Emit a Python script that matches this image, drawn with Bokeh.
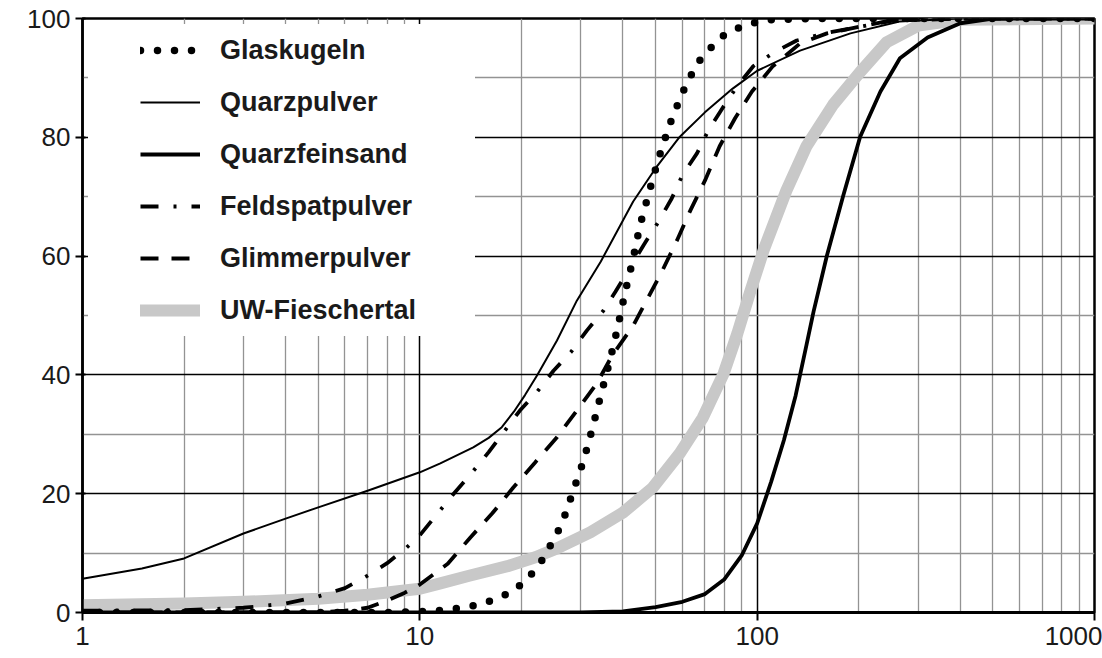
from bokeh.plotting import figure
from bokeh.models import FixedTicker, NumeralTickFormatter, Legend, LegendItem, Range1d
from bokeh.embed import file_html
from bokeh.resources import INLINE

# ---- axis ticks ----
x_ticks = [1, 10, 100, 1000]
x_minor = [2, 3, 4, 5, 6, 7, 8, 9, 20, 30, 40, 50, 60, 70, 80, 90,
           200, 300, 400, 500, 600, 700, 800, 900]
y_ticks = [0, 20, 40, 60, 80, 100]
y_minor = [10, 30, 50, 70, 90]

# ---- series (grain size d, passing %) ----
glas_d = [1, 8, 11, 13.4, 14.9, 16.5, 18.3, 20.2, 22, 23.4, 24.8, 26.2, 27.3, 28.3,
          30.6, 32.5, 34.5, 36.6, 38.6, 40.6, 42.9, 44.9, 47.9, 51, 54.9, 59.7, 63, 66.3,
          71.6, 77.8, 86, 96.5, 110, 150, 1000]
glas_p = [0, 0, 0.2, 0.8, 1.3, 2.1, 3.2, 4.9, 7.2, 9.4, 12.1, 14.6, 17.3, 20,
          25.6, 31.1, 36.9, 42.4, 48, 53.9, 59.6, 65.1, 70.9, 76.4, 82, 87.2, 89.9, 92.4,
          94.6, 96.8, 98.2, 99.2, 99.8, 100, 100]

qp_d = [1, 1.5, 2, 3, 4, 5, 7, 10, 11.5, 14.4, 16, 17.5, 19, 20.5, 22.3, 25.5, 29.2,
        34.4, 42.9, 50, 59, 70, 84.6, 100, 134, 189, 264, 400, 1000]
qp_p = [5.7, 7.4, 9.1, 13.3, 15.8, 17.7, 20.5, 23.6, 25.1, 27.8, 29.4, 31.2, 33.8, 36.6,
        40, 45.8, 52.5, 59.1, 69.2, 74.8, 80.1, 84.2, 88.2, 91.2, 94.6, 97.5, 99.5, 100,
        100]

qf_d = [1, 30, 40, 50, 60, 70, 80, 90, 100, 110, 120, 130, 140, 147, 161, 180, 202,
        232, 265, 320, 400, 500, 1000]
qf_p = [0, 0, 0.2, 0.9, 1.8, 3.1, 5.6, 9.6, 15, 22, 29, 36.5, 45, 50.7, 60.1, 70.2,
        80.1, 87.7, 93.3, 96.8, 99.2, 100, 100]

fs_d = [1, 2, 3, 4, 5, 6, 7, 8, 9, 10, 12.6, 14.3, 16, 17.8, 19.8, 22.3, 24.9, 28.1,
        31.3, 35, 38, 46, 51, 55.8, 60, 66.3, 71.6, 79.5, 87.5, 97.5, 113, 131, 161,
        250, 400, 1000]
fs_p = [0.3, 0.4, 0.8, 1.5, 2.7, 4.1, 6.2, 8.3, 10.6, 13, 20, 23.6, 27, 30.5, 34, 37.2,
        40.7, 43.9, 47.5, 50.8, 54, 61.8, 65.8, 69.7, 73.6, 77.3, 81.1, 85.2, 88.7, 92,
        94.4, 96.3, 97.6, 99.6, 100, 100]

gl_d = [1, 5, 6, 7, 8, 9, 10, 12.1, 14.1, 16.4, 18.9, 22, 25.5, 29.2, 33.5, 37.2, 42.9,
        47.3, 52.4, 57.8, 63.4, 70, 77.4, 86, 96.5, 111, 134, 161, 250, 400, 1000]
gl_p = [0, 0, 0.3, 0.8, 2, 3.3, 4.7, 8.2, 12.6, 16.7, 21, 25.3, 29.5, 34, 38.6, 43.3,
        48.3, 52.8, 57.6, 62.6, 67.7, 72.7, 78.5, 83.2, 87.7, 91.9, 95.8, 97.5, 99.7,
        100, 100]

uw_d = [1, 2, 3, 5, 7, 10, 11.5, 14, 18.2, 22, 25.5, 32, 40, 49, 59, 69, 79.5, 87.4,
        95, 104.5, 122, 140, 168, 202, 242, 300, 400, 1000]
uw_p = [1.2, 1.5, 1.8, 2.3, 3, 4, 4.9, 6.2, 7.8, 9.3, 10.8, 13.5, 16.8, 21, 26.8, 32.8,
        40.2, 47, 53.7, 61, 71, 78.5, 85.5, 91, 96, 98.8, 99.8, 100]

labels = ["Glaskugeln", "Quarzpulver", "Quarzfeinsand", "Feldspatpulver",
          "Glimmerpulver", "UW-Fieschertal"]

FONT = "Liberation Sans"

p = figure(width=1102, height=658, x_axis_type="log",
           x_range=Range1d(1, 1000), y_range=Range1d(0, 100),
           output_backend="svg", toolbar_location=None,
           min_border_left=82, min_border_right=8, min_border_top=18,
           min_border_bottom=46, background_fill_color="white",
           border_fill_color="white")

p.outline_line_color = "black"
p.outline_line_width = 2.5

xt = FixedTicker(ticks=x_ticks, minor_ticks=x_minor)
yt = FixedTicker(ticks=y_ticks, minor_ticks=y_minor)
p.xaxis.ticker = xt
p.yaxis.ticker = yt
p.xgrid.ticker = xt
p.ygrid.ticker = yt
p.xaxis.formatter = NumeralTickFormatter(format="0")

for ax in (p.xaxis, p.yaxis):
    ax.axis_line_color = "black"
    ax.major_tick_line_color = "black"
    ax.major_tick_line_width = 2
    ax.minor_tick_line_color = None
    ax.major_label_text_font = FONT
    ax.major_label_text_font_size = "26px"
    ax.major_label_text_color = "#1a1a1a"
p.xaxis.axis_line_width = 3
p.yaxis.axis_line_width = 2.5
p.xaxis.major_tick_out = 8
p.xaxis.major_tick_in = 0
p.yaxis.major_tick_out = 7
p.yaxis.major_tick_in = 3
p.xaxis.major_label_standoff = 6
p.yaxis.major_label_standoff = 5

for g in (p.xgrid, p.ygrid):
    g.grid_line_color = "black"
    g.grid_line_width = 1.5
    g.minor_grid_line_color = "#939393"
    g.minor_grid_line_width = 1.3

r_uw = p.line(uw_d, uw_p, line_color="#c8c8c8", line_width=12, line_cap="round",
              line_join="round")
r_qf = p.line(qf_d, qf_p, line_color="black", line_width=3.8, line_join="round")
r_qp = p.line(qp_d, qp_p, line_color="black", line_width=2, line_join="round")
r_gl = p.line(gl_d, gl_p, line_color="black", line_width=3.8, line_dash="18 13")
r_fs = p.line(fs_d, fs_p, line_color="black", line_width=3.8, line_dash="18 15 3 15")
r_glas = p.line(glas_d, glas_p, line_color="black", line_width=7.5,
                line_dash="0 17", line_cap="round")

legend = Legend(
    items=[LegendItem(label=labels[0], renderers=[r_glas]),
           LegendItem(label=labels[1], renderers=[r_qp]),
           LegendItem(label=labels[2], renderers=[r_qf]),
           LegendItem(label=labels[3], renderers=[r_fs]),
           LegendItem(label=labels[4], renderers=[r_gl]),
           LegendItem(label=labels[5], renderers=[r_uw])],
    location="top_left", margin=6, padding=0, spacing=0,
    glyph_width=60, glyph_height=52, label_height=52, label_standoff=20,
    label_width=255,
    label_text_font=FONT, label_text_font_size="27px",
    label_text_font_style="bold", label_text_color="#1a1a1a",
    border_line_color=None, background_fill_color="white",
    background_fill_alpha=1.0,
    title=" ", title_location="left", title_text_font_size="20px",
    title_standoff=29, title_text_color="white",
)
p.add_layout(legend)

open("out.html", "w").write(file_html(p, INLINE))
